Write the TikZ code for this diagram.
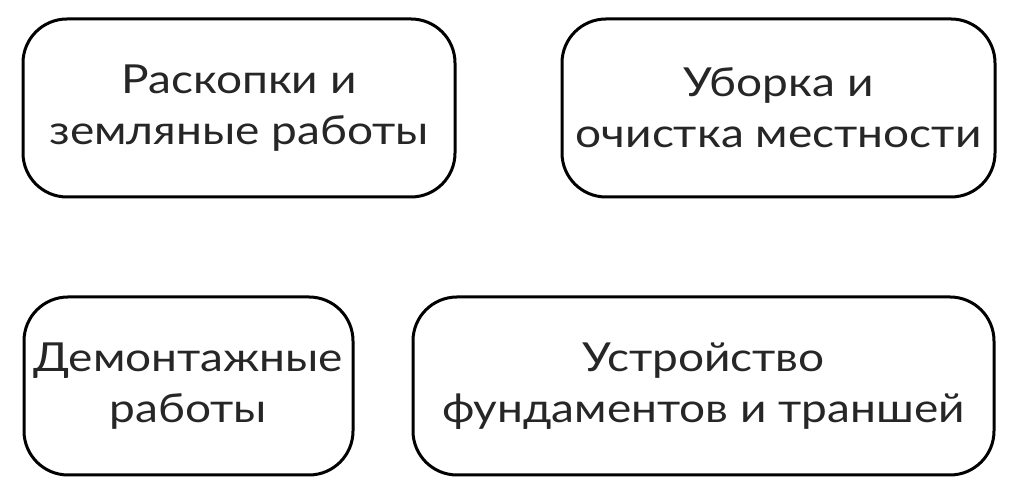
\documentclass[tikz,border=0pt]{standalone}
\usepackage{fontspec}
\setmainfont{Lato}[FakeStretch=1.15]
\definecolor{txtgray}{HTML}{262626}
\tikzset{workbox/.style={draw=black, line width=1.5pt, rounded corners=22pt, minimum height=89pt, align=center, text=txtgray, inner sep=0pt, font=\fontsize{20}{25.5}\selectfont}}

\begin{document}
\begin{tikzpicture}[x=0.5pt, y=0.5pt]
\useasboundingbox (0,0) rectangle (1024,496);
\node[workbox, minimum width=216pt] (dig) at (239,388) {Раскопки и\\земляные работы};
\node[workbox, minimum width=216.5pt] (clean) at (778.5,388) {Уборка и\\очистка местности};
\node[workbox, minimum width=164.5pt] (demol) at (188.5,110) {Демонтажные\\работы};
\node[workbox, minimum width=290.5pt] (found) at (703.5,110) {Устройство\\фундаментов и траншей};
\end{tikzpicture}
\end{document}
